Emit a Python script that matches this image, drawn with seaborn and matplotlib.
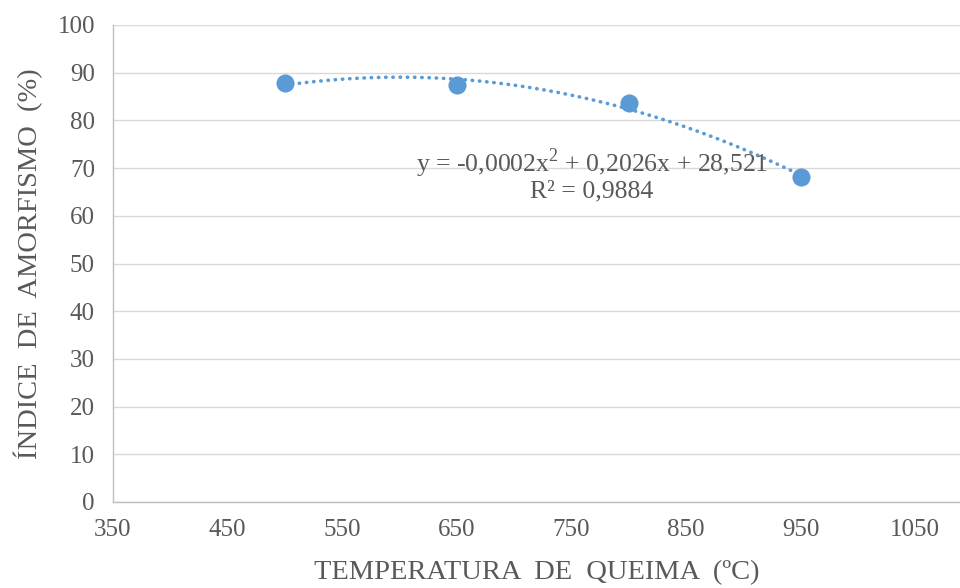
import numpy as np
import pandas as pd
import matplotlib
matplotlib.use("Agg")
import matplotlib.pyplot as plt
import seaborn as sns

# Firing temperature (ºC) and amorphism index (%)
temperatura = [500, 650, 800, 950]
indice = [87.8, 87.4, 83.6, 68.1]

x_ticks = [350, 450, 550, 650, 750, 850, 950, 1050]
y_ticks = [0, 10, 20, 30, 40, 50, 60, 70, 80, 90, 100]

equacao = "y = -0,0002x$^{2}$ + 0,2026x + 28,521"
r2_texto = "R² = 0,9884"

sns.set_theme(style="white")
plt.rcParams["font.family"] = ["Liberation Serif", "DejaVu Serif"]
plt.rcParams["mathtext.fontset"] = "custom"
plt.rcParams["mathtext.rm"] = "Liberation Serif"

cor = "#5B9BD5"
cinza = "#595959"

df = pd.DataFrame({"temperatura": temperatura, "indice": indice})

# second-order polynomial trendline through the measured points
coef = np.polyfit(df["temperatura"], df["indice"], 2)
xs = np.linspace(min(temperatura), max(temperatura), 200)
tend = pd.DataFrame({"x": xs, "y": np.polyval(coef, xs)})

fig = plt.figure(figsize=(9.6, 5.88), dpi=100)
ax = fig.add_axes([113 / 960, 1 - 502 / 588, 1 - 113 / 960, (502 - 25) / 588])

sns.lineplot(data=tend, x="x", y="y", ax=ax, color=cor, linewidth=2.6,
             linestyle=(0, (0.1, 1.9)), solid_capstyle="round",
             dash_capstyle="round", zorder=3)
sns.scatterplot(data=df, x="temperatura", y="indice", ax=ax, color=cor,
                s=170, edgecolor=cor, linewidth=0, zorder=4)

ax.set_xlim(350, 1089)
ax.set_ylim(0, 100)
ax.set_xticks(x_ticks)
ax.set_yticks(y_ticks)
ax.tick_params(axis="both", length=0, labelsize=18, labelcolor=cinza)
ax.tick_params(axis="x", pad=12)
ax.tick_params(axis="y", pad=13)
ax.grid(axis="y", color="#D9D9D9", linewidth=1)
ax.set_axisbelow(True)
for s in ["top", "right"]:
    ax.spines[s].set_visible(False)
for s in ["left", "bottom"]:
    ax.spines[s].set_color("#BFBFBF")
    ax.spines[s].set_linewidth(1)

ax.set_xlabel("TEMPERATURA  DE  QUEIMA  (ºC)", fontsize=20.5, color=cinza, labelpad=14)
ax.set_ylabel("ÍNDICE  DE  AMORFISMO  (%)", fontsize=20.5, color=cinza, labelpad=10)

ax.text(768, 71.1, equacao, fontsize=18.5, color=cinza, ha="center", va="center", zorder=5)
ax.text(768, 65.0, r2_texto, fontsize=18.5, color=cinza, ha="center", va="center", zorder=5)

fig.savefig("out.png", dpi=100)
